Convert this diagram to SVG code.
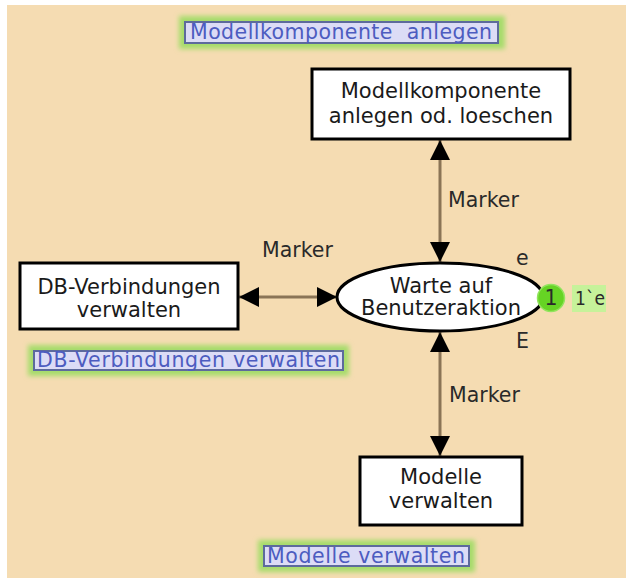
<svg xmlns="http://www.w3.org/2000/svg" width="626" height="578" viewBox="0 0 626 578">
  <style>
    .node { fill: #ffffff; stroke: #000000; stroke-width: 3; }
    .ntext { font-family: "DejaVu Sans", Verdana, sans-serif; font-size: 21px; fill: #1a1a1a; text-anchor: middle; }
    .arc { stroke: #8a7456; stroke-width: 3; fill: none; }
    .atext { font-family: "DejaVu Sans", Verdana, sans-serif; font-size: 20.5px; fill: #2a2a2a; }
    .head { fill: #000000; }
    .glow { fill: #a6dc6a; filter: url(#blur); }
    .tag { fill: #dcdcf6; stroke: #5d6a9c; stroke-width: 2; }
    .ttext { font-family: "DejaVu Sans", Verdana, sans-serif; font-size: 20.5px; fill: #4d5cc0; }
  </style>
  <defs>
    <filter id="blur" x="-20%" y="-60%" width="140%" height="220%">
      <feGaussianBlur stdDeviation="2.5"/>
    </filter>
    <marker id="arrow" viewBox="0 0 20 20" refX="20" refY="10" markerWidth="20" markerHeight="20" markerUnits="userSpaceOnUse" orient="auto-start-reverse">
      <path class="head" d="M0,0 L20,10 L0,20 Z"/>
    </marker>
  </defs>

  <!-- page background -->
  <rect x="7" y="5" width="619" height="573" fill="#f5dcb2"/>

  <!-- connectors -->
  <g id="arcs">
    <line class="arc" x1="440" y1="140" x2="440" y2="262" marker-start="url(#arrow)" marker-end="url(#arrow)"/>
    <line class="arc" x1="239" y1="297" x2="337" y2="297" marker-start="url(#arrow)" marker-end="url(#arrow)"/>
    <line class="arc" x1="440" y1="332" x2="440" y2="456" marker-start="url(#arrow)" marker-end="url(#arrow)"/>
    <text class="atext" x="448" y="207">Marker</text>
    <text class="atext" x="262" y="257">Marker</text>
    <text class="atext" x="449" y="402">Marker</text>
  </g>

  <!-- transition: Modellkomponente anlegen od. loeschen -->
  <g id="t-modellkomponente">
    <rect class="node" x="312" y="69" width="258" height="70"/>
    <text class="ntext" x="441" y="98">Modellkomponente</text>
    <text class="ntext" x="441" y="123">anlegen od. loeschen</text>
  </g>

  <!-- transition: DB-Verbindungen verwalten -->
  <g id="t-db">
    <rect class="node" x="20" y="263" width="218" height="66"/>
    <text class="ntext" x="129" y="294">DB-Verbindungen</text>
    <text class="ntext" x="129" y="317">verwalten</text>
  </g>

  <!-- place: Warte auf Benutzeraktion -->
  <g id="p-warte">
    <ellipse class="node" cx="440" cy="297" rx="103" ry="34"/>
    <text class="ntext" x="441" y="293">Warte auf</text>
    <text class="ntext" x="441" y="315">Benutzeraktion</text>
    <text class="atext" x="516" y="265">e</text>
    <text class="atext" x="516" y="348">E</text>
    <circle cx="551" cy="298" r="13.5" fill="#66d424" stroke="#92e45e" stroke-width="1.5"/>
    <text class="atext" x="551" y="305" text-anchor="middle">1</text>
    <rect x="572" y="285" width="34" height="27" fill="#c6f29a"/>
    <text class="atext" x="575" y="305" style="font-size:19px" textLength="30" lengthAdjust="spacingAndGlyphs">1`e</text>
  </g>

  <!-- transition: Modelle verwalten -->
  <g id="t-modelle">
    <rect class="node" x="360" y="457" width="162" height="68"/>
    <text class="ntext" x="441" y="484">Modelle</text>
    <text class="ntext" x="441" y="508">verwalten</text>
  </g>

  <!-- substitution page tags -->
  <g id="tag-modellkomponente">
    <rect class="glow" x="179" y="16" width="326" height="33"/>
    <rect class="tag" x="185" y="22" width="313" height="21"/>
    <text class="ttext" x="190" y="39" xml:space="preserve" textLength="302">Modellkomponente  anlegen</text>
  </g>
  <g id="tag-db">
    <rect class="glow" x="28" y="345" width="321" height="31"/>
    <rect class="tag" x="34" y="351" width="309" height="19"/>
    <text class="ttext" x="37" y="367" textLength="303">DB-Verbindungen verwalten</text>
  </g>
  <g id="tag-modelle">
    <rect class="glow" x="258" y="540" width="217" height="32"/>
    <rect class="tag" x="264" y="546" width="205" height="20"/>
    <text class="ttext" x="267" y="563" textLength="198">Modelle verwalten</text>
  </g>
</svg>
